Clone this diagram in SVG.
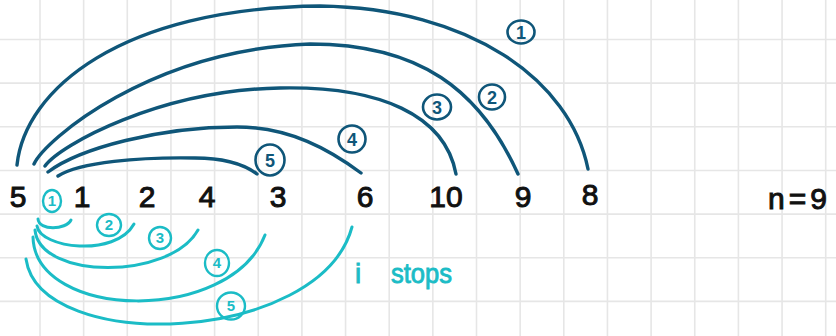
<svg xmlns="http://www.w3.org/2000/svg" width="836" height="336" viewBox="0 0 836 336">
<defs>
<style>
.grid line{stroke:#e6e6e6;stroke-width:1.6}
.num{font-family:"Liberation Sans",Arial,sans-serif;font-size:30px;fill:#111;stroke:#111;stroke-width:1;text-anchor:middle}
.dk{fill:none;stroke:#0f5679;stroke-width:3.4;stroke-linecap:round}
.tl{fill:none;stroke:#1bbcc6;stroke-width:3;stroke-linecap:round}
.cd{fill:none;stroke:#0f5679;stroke-width:2.6}
.ct{fill:none;stroke:#1bbcc6;stroke-width:2.4}
.ld{font-family:"Liberation Sans",Arial,sans-serif;font-size:18px;fill:#0f5679;text-anchor:middle;font-weight:bold}
.lt{font-family:"Liberation Sans",Arial,sans-serif;font-size:15px;fill:#1bbcc6;text-anchor:middle;font-weight:bold}
.note{font-family:"Liberation Sans",Arial,sans-serif;font-size:28px;fill:#1bbcc6;stroke:#1bbcc6;stroke-width:0.9}
</style>
</defs>
<rect width="836" height="336" fill="#ffffff"/>
<g class="grid">
<line x1="40" y1="0" x2="40" y2="336"/><line x1="83.65" y1="0" x2="83.65" y2="336"/><line x1="127.3" y1="0" x2="127.3" y2="336"/><line x1="170.95" y1="0" x2="170.95" y2="336"/><line x1="214.6" y1="0" x2="214.6" y2="336"/><line x1="258.25" y1="0" x2="258.25" y2="336"/><line x1="301.9" y1="0" x2="301.9" y2="336"/><line x1="345.55" y1="0" x2="345.55" y2="336"/><line x1="389.2" y1="0" x2="389.2" y2="336"/><line x1="432.85" y1="0" x2="432.85" y2="336"/><line x1="476.5" y1="0" x2="476.5" y2="336"/><line x1="520.15" y1="0" x2="520.15" y2="336"/><line x1="563.8" y1="0" x2="563.8" y2="336"/><line x1="607.45" y1="0" x2="607.45" y2="336"/><line x1="651.1" y1="0" x2="651.1" y2="336"/><line x1="694.75" y1="0" x2="694.75" y2="336"/><line x1="738.4" y1="0" x2="738.4" y2="336"/><line x1="782.05" y1="0" x2="782.05" y2="336"/><line x1="825.7" y1="0" x2="825.7" y2="336"/>
<line x1="0" y1="39.5" x2="836" y2="39.5"/><line x1="0" y1="83.15" x2="836" y2="83.15"/><line x1="0" y1="126.8" x2="836" y2="126.8"/><line x1="0" y1="170.45" x2="836" y2="170.45"/><line x1="0" y1="214.1" x2="836" y2="214.1"/><line x1="0" y1="257.75" x2="836" y2="257.75"/><line x1="0" y1="301.4" x2="836" y2="301.4"/>
</g>
<g id="connectors">
<path class="dk" d="M17,165 C25,90 120,8 320,6 C470,8 570,80 588,169"/>
<path class="dk" d="M34,164 C45,140 150,50 310,44 C420,44 480,90 518,174"/>
<path class="dk" d="M45,166 C60,145 160,90 280,88 C380,86 445,115 456,174"/>
<path class="dk" d="M48,172 C80,148 160,127 237,127 C290,127 330,150 361,173"/>
<path class="dk" d="M58,176 C80,162 140,157 195,158 C225,158 245,165 257,174"/>
<path class="tl" d="M38,219 C39,231 66,230 71,220"/>
<path class="tl" d="M37,226 C40,248 115,258 134,224"/>
<path class="tl" d="M35,230 C40,280 170,280 198,230"/>
<path class="tl" d="M33,237 C35,320 230,325 265,235"/>
<path class="tl" d="M26,259 C40,355 320,345 352,227"/>
</g>
<g id="node-5"><text class="num" x="18" y="207">5</text></g>
<g id="node-1"><text class="num" x="82" y="207">1</text></g>
<g id="node-2"><text class="num" x="147" y="207">2</text></g>
<g id="node-4"><text class="num" x="207" y="207">4</text></g>
<g id="node-3"><text class="num" x="278" y="207">3</text></g>
<g id="node-6"><text class="num" x="365" y="207">6</text></g>
<g id="node-10"><text class="num" x="446" y="207">10</text></g>
<g id="node-9"><text class="num" x="523" y="207">9</text></g>
<g id="node-8"><text class="num" x="590" y="205">8</text></g>
<g id="n-label"><text class="num" x="768" y="209" style="text-anchor:start;letter-spacing:4px">n=9</text></g>
<g id="label-d1"><ellipse class="cd" cx="521" cy="32" rx="13.5" ry="11.5"/><text class="ld" x="521" y="38.5">1</text></g>
<g id="label-d2"><ellipse class="cd" cx="492" cy="97" rx="13" ry="12.5"/><text class="ld" x="492" y="103.5">2</text></g>
<g id="label-d3"><ellipse class="cd" cx="437" cy="107" rx="14" ry="12.5"/><text class="ld" x="437" y="113.5">3</text></g>
<g id="label-d4"><ellipse class="cd" cx="352" cy="139" rx="13.5" ry="13.5"/><text class="ld" x="352" y="145.5">4</text></g>
<g id="label-d5"><ellipse class="cd" cx="270" cy="160" rx="14.5" ry="15.5"/><text class="ld" x="270" y="166.5">5</text></g>
<g id="label-t1"><ellipse class="ct" cx="52" cy="201" rx="9" ry="11"/><text class="lt" x="52" y="206">1</text></g>
<g id="label-t2"><ellipse class="ct" cx="109" cy="225" rx="12" ry="11"/><text class="lt" x="109" y="230">2</text></g>
<g id="label-t3"><ellipse class="ct" cx="160" cy="238" rx="11" ry="11"/><text class="lt" x="160" y="243">3</text></g>
<g id="label-t4"><ellipse class="ct" cx="217" cy="263" rx="12" ry="13"/><text class="lt" x="217" y="268">4</text></g>
<g id="label-t5"><ellipse class="ct" cx="231" cy="306" rx="14" ry="13.5"/><text class="lt" x="231" y="311">5</text></g>
<g id="note"><text class="note" x="358" y="283" text-anchor="middle">i</text><text class="note" x="391" y="283" textLength="61" lengthAdjust="spacingAndGlyphs">stops</text></g>
</svg>
